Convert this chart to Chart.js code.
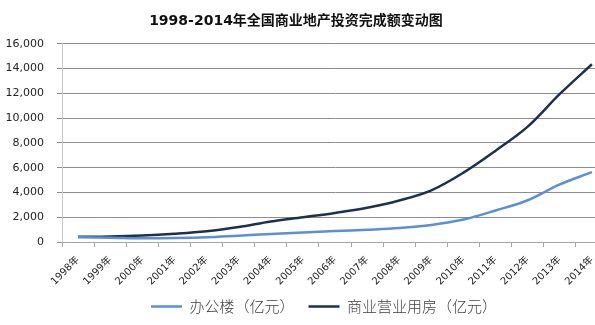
<!DOCTYPE html>
<html>
<head>
<meta charset="utf-8">
<script src="https://cdn.jsdelivr.net/npm/chart.js@4"></script>
<style>
html,body{margin:0;padding:0;background:#fff;overflow:hidden;}
#wrap{width:608px;height:325px;position:relative;}
</style>
</head>
<body>
<div id="wrap"><canvas id="c" width="608" height="325"></canvas></div>
<script>
const titleText = '1998-2014年全国商业地产投资完成额变动图';
const categories = ['1998年','1999年','2000年','2001年','2002年','2003年','2004年','2005年','2006年','2007年','2008年','2009年','2010年','2011年','2012年','2013年','2014年'];
const officeLabel = '办公楼（亿元）';
const officeValues = [380, 350, 300, 320, 380, 510, 640, 760, 880, 990, 1130, 1380, 1810, 2540, 3370, 4650, 5640];
const commercialLabel = '商业营业用房（亿元）';
const commercialValues = [420, 450, 530, 670, 870, 1210, 1660, 2000, 2350, 2760, 3350, 4170, 5600, 7370, 9310, 11950, 14350];
const yMin = 0, yMax = 16000, yStep = 2000;

const latin = 'DejaVu Sans, "Noto Sans CJK SC", sans-serif';
const cjk = '"Noto Sans CJK SC", sans-serif';

const shiftBoxes = {
  id: 'shiftBoxes',
  afterLayout(chart) {
    if (chart.titleBlock) { chart.titleBlock.left -= 8; chart.titleBlock.right -= 8; }
    if (chart.legend) { chart.legend.left += 20; chart.legend.right += 20; }
  }
};

new Chart(document.getElementById('c'), {
  type: 'line',
  data: {
    labels: categories,
    datasets: [
      { label: officeLabel, data: officeValues, borderColor: '#5B8FD6', backgroundColor: '#5B8FD6', borderWidth: 2.5, pointRadius: 0, tension: 0.35, fill: false },
      { label: commercialLabel, data: commercialValues, borderColor: '#1C3150', backgroundColor: '#1C3150', borderWidth: 2.5, pointRadius: 0, tension: 0.35, fill: false }
    ]
  },
  plugins: [shiftBoxes],
  options: {
    responsive: false,
    animation: false,
    events: [],
    layout: { padding: { left: 0, right: 0, top: 0, bottom: 1 } },
    plugins: {
      title: {
        display: true, text: titleText, color: '#111',
        font: { family: latin, size: 14, weight: 'bold' },
        padding: { top: 13, bottom: 14 }
      },
      legend: {
        position: 'bottom',
        labels: {
          usePointStyle: true, pointStyle: 'line', pointStyleWidth: 31,
          boxHeight: 8, color: '#404040', padding: 14,
          font: { family: cjk, size: 15, weight: 300 }
        }
      },
      tooltip: { enabled: false }
    },
    scales: {
      x: {
        offset: true,
        afterFit: (s) => { s.height = 43; s.paddingRight = 0; },
        grid: { display: true, drawOnChartArea: false, drawTicks: true, tickLength: 5, color: '#A6A6A6', offset: true },
        border: { display: true, color: '#A6A6A6', width: 1 },
        ticks: { autoSkip: false, maxRotation: 45, minRotation: 45, color: '#222', padding: 7, font: { family: latin, size: 10 } }
      },
      y: {
        min: yMin, max: yMax,
        afterFit: (s) => { s.width = 62; },
        grid: { color: '#8C8C8C', lineWidth: 1, tickLength: 5, drawTicks: true },
        border: { display: true, color: '#C8C8C8', width: 1 },
        ticks: { stepSize: yStep, color: '#222', padding: 13, font: { family: latin, size: 11 } }
      }
    }
  }
});
</script>
</body>
</html>
